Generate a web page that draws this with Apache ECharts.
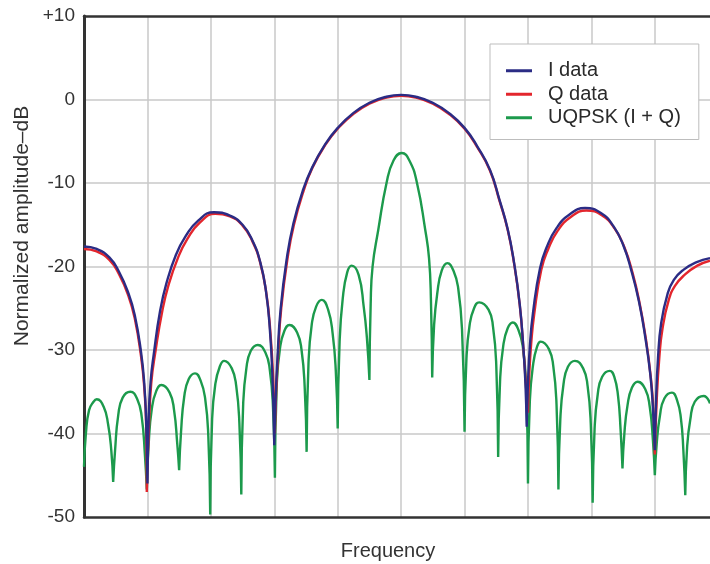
<!DOCTYPE html>
<html>
<head>
<meta charset="utf-8">
<title>UQPSK spectrum</title>
<script src="https://cdn.jsdelivr.net/npm/echarts@6/dist/echarts.min.js"></script>
<style>
  html, body { margin: 0; padding: 0; background: #fff; }
  #chart { width: 710px; height: 564px; }
</style>
</head>
<body>
<div id="chart"></div>
<script>
// frequency in grid divisions (0 = left edge), amplitude in dB
// each curve is split into lobes so the nulls stay sharp
const iLobes = [
  [[0, -17.6], [0.2, -17.9], [0.4, -18.9], [0.55, -20.6], [0.7, -23.2], [0.8, -25.8], [0.9, -30.3], [0.95, -34], [0.98, -38.5], [1.0, -46]],
  [[1.0, -46], [1.02, -38], [1.05, -33.8], [1.1, -30.5], [1.2, -25.3], [1.3, -22], [1.45, -18.6], [1.6, -16.4], [1.8, -14.5], [2.05, -13.5], [2.3, -13.9], [2.5, -15.0], [2.65, -16.8], [2.78, -19.5], [2.87, -23], [2.93, -27.5], [2.97, -33], [3.0, -41.4]],
  [[3.0, -41.4], [3.02, -36], [3.05, -31], [3.1, -25.1], [3.2, -18.9], [3.3, -14.9], [3.45, -10.9], [3.6, -8.1], [3.8, -5.4], [4.0, -3.4], [4.25, -1.6], [4.5, -0.4], [4.75, 0.3], [5.0, 0.55], [5.25, 0.3], [5.5, -0.4], [5.75, -1.6], [6.0, -3.4], [6.2, -5.6], [6.4, -8.4], [6.55, -12], [6.68, -15.5], [6.78, -19.5], [6.87, -24.5], [6.93, -30], [6.96, -34], [6.98, -39.2]],
  [[6.98, -39.2], [7.0, -34], [7.03, -29.5], [7.08, -25.5], [7.19, -20.2], [7.3, -17.6], [7.45, -15.4], [7.65, -13.8], [7.9, -13.0], [8.15, -13.6], [8.35, -15.2], [8.5, -17.4], [8.63, -20.5], [8.75, -24.2], [8.85, -28.5], [8.93, -33], [8.97, -37], [9.0, -42]],
  [[9.0, -42], [9.02, -36], [9.05, -31], [9.1, -26.8], [9.2, -23.3], [9.3, -21.6], [9.45, -20.4], [9.65, -19.5], [9.87, -19.0]]
]

const qLobes = [
  [[0, -17.9], [0.2, -18.2], [0.4, -19.2], [0.55, -20.9], [0.7, -23.5], [0.8, -26.2], [0.9, -30.8], [0.95, -34.5], [0.98, -39], [0.99, -47]],
  [[0.99, -47], [1.02, -40], [1.06, -34], [1.13, -30], [1.23, -25.5], [1.33, -22.3], [1.48, -19], [1.63, -16.7], [1.83, -14.7], [2.07, -13.7], [2.3, -14.0], [2.5, -15.1], [2.65, -16.9], [2.78, -19.6], [2.88, -23.5], [2.94, -28], [2.98, -33], [3.01, -40]],
  [[3.01, -40], [3.03, -35], [3.06, -30.5], [3.11, -25], [3.21, -19], [3.31, -15], [3.46, -11], [3.6, -8.2], [3.8, -5.5], [4.0, -3.5], [4.25, -1.7], [4.5, -0.5], [4.75, 0.2], [5.0, 0.45], [5.25, 0.2], [5.5, -0.5], [5.75, -1.7], [6.0, -3.5], [6.2, -5.7], [6.4, -8.5], [6.55, -12.1], [6.68, -15.6], [6.78, -19.6], [6.87, -24.6], [6.93, -30], [6.97, -34.5], [7.0, -37.5]],
  [[7.0, -37.5], [7.02, -33], [7.05, -29.3], [7.1, -25.6], [7.21, -20.4], [7.32, -17.9], [7.47, -15.7], [7.67, -14.1], [7.92, -13.3], [8.17, -13.9], [8.37, -15.5], [8.52, -17.7], [8.65, -20.8], [8.76, -24.4], [8.86, -28.7], [8.94, -33.5], [8.98, -37.5], [9.0, -42.5]],
  [[9.0, -42.5], [9.03, -36], [9.07, -31], [9.12, -27.5], [9.22, -24], [9.32, -22.3], [9.47, -21], [9.67, -19.9], [9.87, -19.3]]
]

const uqpskLobes = [
  [[0, -44], [0.03, -40], [0.08, -37.2], [0.15, -36.2], [0.2, -35.9], [0.31, -36.8], [0.38, -38.9], [0.43, -42], [0.46, -45.8]],
  [[0.46, -45.8], [0.49, -42], [0.54, -37.8], [0.61, -35.7], [0.73, -35.0], [0.84, -35.9], [0.91, -38], [0.96, -42.5], [0.99, -46.7]],
  [[0.99, -46.7], [1.02, -41.2], [1.07, -37], [1.14, -34.9], [1.22, -34.2], [1.35, -35.1], [1.42, -37.2], [1.47, -41.2], [1.5, -44.4]],
  [[1.5, -44.4], [1.53, -39.8], [1.58, -35.6], [1.65, -33.5], [1.75, -32.8], [1.84, -33.7], [1.91, -35.8], [1.96, -40.3], [1.99, -49.7]],
  [[1.99, -49.7], [2.02, -38.3], [2.07, -34.1], [2.14, -32], [2.21, -31.3], [2.33, -32.2], [2.4, -34.3], [2.45, -38.8], [2.48, -47.3]],
  [[2.48, -47.3], [2.51, -36.4], [2.56, -32.2], [2.63, -30.1], [2.74, -29.4], [2.86, -30.3], [2.93, -32.4], [2.98, -36.9], [3.01, -45.3]],
  [[3.01, -45.3], [3.04, -34], [3.09, -29.8], [3.16, -27.7], [3.24, -27.0], [3.36, -27.9], [3.43, -30], [3.48, -34.5], [3.51, -42.2]],
  [[3.51, -42.2], [3.54, -31.5], [3.59, -27], [3.66, -24.8], [3.75, -24.0], [3.85, -25.2], [3.92, -28], [3.97, -32.5], [4.0, -39.4]],
  [[4.0, -39.4], [4.03, -29], [4.08, -23.8], [4.15, -20.7], [4.22, -19.9], [4.33, -21], [4.41, -24.8], [4.46, -28.5], [4.5, -33.6]],
  [[4.5, -33.6], [4.52, -24.5], [4.55, -20], [4.64, -15.6], [4.77, -10], [4.88, -7.3], [5.01, -6.4], [5.13, -7.3], [5.25, -10], [5.38, -15.6], [5.44, -19], [5.47, -24], [5.49, -33.3]],
  [[5.49, -33.3], [5.52, -27], [5.57, -23.2], [5.64, -20.5], [5.73, -19.6], [5.83, -20.6], [5.9, -22.6], [5.96, -27.5], [6.0, -39.8]],
  [[6.0, -39.8], [6.03, -31], [6.08, -27], [6.15, -25], [6.23, -24.3], [6.38, -25.2], [6.45, -27.3], [6.5, -31.8], [6.53, -42.8]],
  [[6.53, -42.8], [6.56, -33.7], [6.61, -29.5], [6.68, -27.4], [6.76, -26.7], [6.85, -27.6], [6.92, -29.7], [6.97, -34.2], [7.0, -46]],
  [[7.0, -46], [7.03, -36], [7.08, -31.8], [7.14, -29.7], [7.2, -29], [7.33, -29.9], [7.4, -32], [7.45, -36.5], [7.48, -46.7]],
  [[7.48, -46.7], [7.51, -38.3], [7.56, -34.1], [7.63, -32], [7.74, -31.3], [7.87, -32.2], [7.94, -34.3], [7.99, -38.8], [8.02, -48.3]],
  [[8.02, -48.3], [8.05, -39.5], [8.1, -35.3], [8.17, -33.2], [8.29, -32.5], [8.36, -33.2], [8.42, -35.5], [8.46, -39.5], [8.49, -44.2]],
  [[8.49, -44.2], [8.52, -40], [8.57, -36.6], [8.64, -34.5], [8.73, -33.8], [8.85, -34.7], [8.92, -36.8], [8.97, -40.8], [9.0, -45]],
  [[9.0, -45], [9.03, -41.2], [9.08, -37.9], [9.15, -35.8], [9.27, -35.1], [9.35, -36], [9.41, -38.1], [9.45, -42], [9.48, -47.4]],
  [[9.48, -47.4], [9.51, -41.5], [9.56, -38.3], [9.63, -36.2], [9.77, -35.5], [9.87, -36.4]]
]

const seriesNames = ['I data', 'Q data', 'UQPSK (I + Q)']
const colorList = ['#2b2c85', '#e3262d', '#1c9a4c']
const yTicks = [-50, -40, -30, -20, -10, 0, 10]

// put a gap between lobes so each one is smoothed on its own
function joinLobes(lobes) {
  const out = []
  lobes.forEach((lobe, i) => {
    if (i > 0) out.push([lobe[0][0], '-'])
    lobe.forEach(p => out.push(p))
  })
  return out
}

const chartBox = echarts.init(document.getElementById('chart'))
const fontFamily = '"Liberation Sans", Arial, Helvetica, sans-serif'

const lineSeries = (name, lobes, color, z) => ({
  name: name,
  type: 'line',
  data: joinLobes(lobes),
  showSymbol: false,
  smooth: 0.5,
  connectNulls: false,
  z: z,
  lineStyle: { color: color, width: 2.4 },
  itemStyle: { color: color }
})

const option = {
  backgroundColor: '#ffffff',
  animation: false,
  grid: { left: 84, top: 16, right: 0, bottom: 47, containLabel: false },
  legend: {
    orient: 'vertical',
    left: 490,
    top: 44,
    data: seriesNames,
    icon: 'rect',
    itemWidth: 26,
    itemHeight: 3,
    itemGap: 0,
    padding: [15, 18, 10, 16],
    backgroundColor: '#ffffff',
    borderColor: '#bdbdbd',
    borderWidth: 1,
    borderRadius: 0,
    textStyle: {
      fontFamily: fontFamily,
      fontSize: 20,
      color: '#2a2a2a',
      lineHeight: 23.5,
      padding: [0, 0, 0, 11]
    }
  },
  xAxis: [
    {
      type: 'value',
      min: 0,
      max: 9.87,
      interval: 1,
      axisLine: { show: true, onZero: false, lineStyle: { color: '#333', width: 2.5 } },
      axisTick: { show: false },
      axisLabel: { show: false },
      splitLine: { show: true, showMinLine: false, showMaxLine: false, lineStyle: { color: '#c8c8c8', width: 1.5 } }
    },
    {
      type: 'value',
      position: 'top',
      min: 0,
      max: 9.87,
      interval: 1,
      axisLine: { show: true, onZero: false, lineStyle: { color: '#333', width: 2.5 } },
      axisTick: { show: false },
      axisLabel: { show: false },
      splitLine: { show: false }
    }
  ],
  yAxis: {
    type: 'value',
    min: yTicks[0],
    max: yTicks[yTicks.length - 1],
    interval: 10,
    axisLine: { show: true, onZero: false, lineStyle: { color: '#333', width: 3 } },
    axisTick: { show: false },
    axisLabel: {
      margin: 9,
      fontFamily: fontFamily,
      fontSize: 19,
      color: '#333',
      formatter: v => (v > 0 ? '+' + v : String(v))
    },
    splitLine: { show: true, showMinLine: false, showMaxLine: false, lineStyle: { color: '#c8c8c8', width: 1.5 } }
  },
  graphic: [
    {
      type: 'text',
      x: 22,
      y: 226,
      rotation: Math.PI / 2,
      style: {
        text: 'Normalized amplitude\u2013dB',
        fontFamily: fontFamily,
        fontSize: 21,
        fill: '#333',
        align: 'center',
        verticalAlign: 'middle'
      }
    },
    {
      type: 'text',
      x: 388,
      y: 551,
      style: {
        text: 'Frequency',
        fontFamily: fontFamily,
        fontSize: 20,
        fill: '#333',
        align: 'center',
        verticalAlign: 'middle'
      }
    }
  ],
  series: [
    lineSeries(seriesNames[2], uqpskLobes, colorList[2], 2),
    lineSeries(seriesNames[1], qLobes, colorList[1], 3),
    lineSeries(seriesNames[0], iLobes, colorList[0], 4)
  ]
}

chartBox.setOption(option, true)
</script>
</body>
</html>
